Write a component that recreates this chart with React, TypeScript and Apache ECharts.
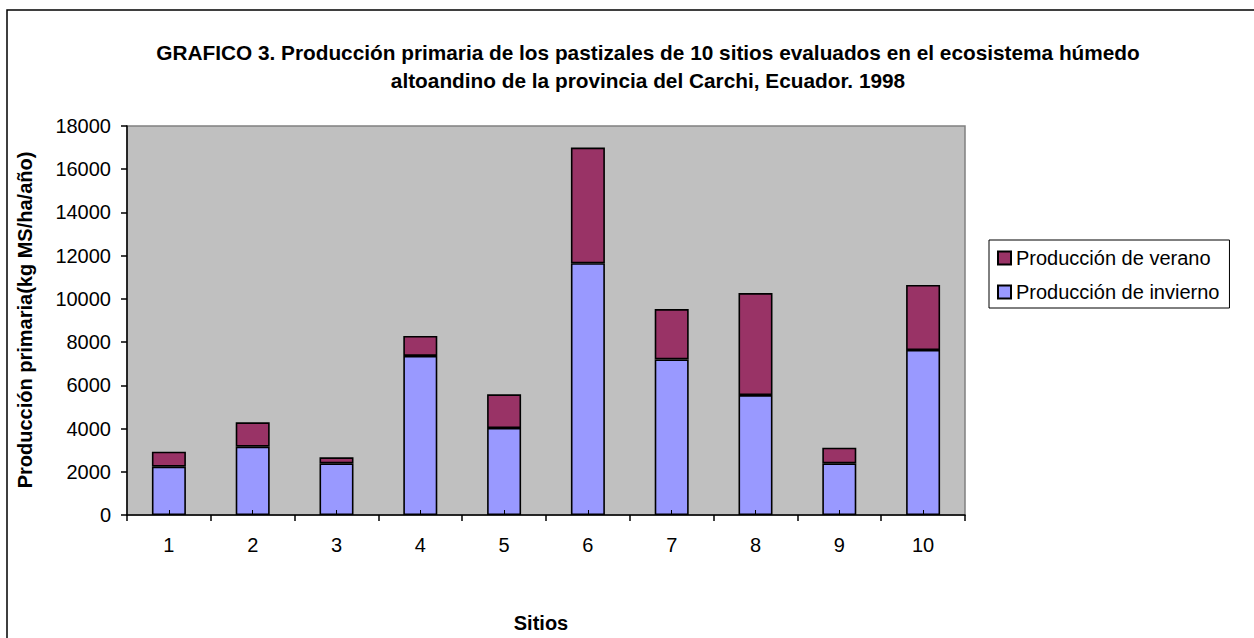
import React, { useEffect, useRef } from "react";
import * as echarts from "echarts";

const sitios = ["1", "2", "3", "4", "5", "6", "7", "8", "9", "10"];
const invierno = [2235, 3160, 2390, 7360, 4025, 11650, 7200, 5550, 2390, 7635];
const verano = [695, 1130, 280, 925, 1560, 5350, 2330, 4720, 725, 3010];
const yMin = 0;
const yMax = 18000;
const yStep = 2000;
const titleText =
  "GRAFICO 3. Producción primaria de los pastizales de 10 sitios evaluados en el ecosistema húmedo\naltoandino de la provincia del Carchi, Ecuador. 1998";
const yName = "Producción primaria(kg MS/ha/año)";
const xName = "Sitios";
const nameVerano = "Producción de verano";
const nameInvierno = "Producción de invierno";

const FONT = "'Liberation Sans', Arial, sans-serif";

export default function App() {
  const ref = useRef<HTMLDivElement>(null);
  useEffect(() => {
    if (!ref.current) return;
    const chart = echarts.init(ref.current, null, { renderer: "svg" });
    const barBorder = { borderColor: "#000", borderWidth: 1.6 };
    chart.setOption({
      animation: false,
      backgroundColor: "#fff",
      textStyle: { fontFamily: FONT },
      graphic: [
        {
          type: "rect",
          shape: { x: 7, y: 10, width: 1300, height: 700 },
          style: { fill: "none", stroke: "#000", lineWidth: 1.5 },
          z: 0,
        },
        {
          type: "text",
          x: 648,
          y: 66,
          style: {
            text: titleText,
            align: "center",
            verticalAlign: "middle",
            font: "bold 20.8px " + FONT,
            lineHeight: 28,
            fill: "#000",
          },
        },
        {
          type: "text",
          x: 25,
          y: 320,
          rotation: Math.PI / 2,
          style: {
            text: yName,
            align: "center",
            verticalAlign: "middle",
            font: "bold 20px " + FONT,
            fill: "#000",
          },
        },
        {
          type: "text",
          x: 541,
          y: 623,
          style: {
            text: xName,
            align: "center",
            verticalAlign: "middle",
            font: "bold 20px " + FONT,
            fill: "#000",
          },
        },
      ],
      legend: {
        orient: "vertical",
        left: 989,
        top: 240,
        padding: [8, 10, 6, 8],
        borderColor: "#000",
        borderWidth: 1,
        itemWidth: 13,
        itemHeight: 13,
        itemGap: 14,
        icon: "rect",
        data: [nameVerano, nameInvierno],
        textStyle: { fontSize: 20, color: "#000", fontFamily: FONT },
        itemStyle: { borderColor: "#000", borderWidth: 2 },
      },
      grid: {
        left: 127,
        right: 289,
        top: 126,
        bottom: 123,
        show: true,
        backgroundColor: "#C0C0C0",
        borderColor: "#808080",
        borderWidth: 1.5,
      },
      xAxis: [
        {
          type: "category",
          data: sitios,
          axisLine: { lineStyle: { color: "#000", width: 1.5 } },
          axisTick: { show: true, length: 6, lineStyle: { color: "#000", width: 1.5 } },
          axisLabel: { fontSize: 20, color: "#000", margin: 20, fontFamily: FONT },
          splitLine: { show: false },
        },
        {
          type: "category",
          data: sitios,
          position: "bottom",
          z: 10,
          axisLine: { show: false },
          axisTick: {
            show: true,
            inside: true,
            alignWithLabel: true,
            length: 5,
            lineStyle: { color: "#000", width: 1 },
          },
          axisLabel: { show: false },
          splitLine: { show: false },
        },
      ],
      yAxis: {
        type: "value",
        min: yMin,
        max: yMax,
        interval: yStep,
        axisLine: { show: true, lineStyle: { color: "#000", width: 1.5 } },
        axisTick: { show: true, length: 6, lineStyle: { color: "#000", width: 1.5 } },
        axisLabel: {
          fontSize: 20,
          color: "#000",
          margin: 16,
          fontFamily: FONT,
          formatter: (v: number) => String(v),
        },
        splitLine: { show: false },
      },
      series: [
        {
          name: nameInvierno,
          type: "bar",
          stack: "total",
          data: invierno,
          barWidth: 34,
          itemStyle: { color: "#9999FF", ...barBorder },
        },
        {
          name: nameVerano,
          type: "bar",
          stack: "total",
          data: verano,
          barWidth: 34,
          itemStyle: { color: "#993366", ...barBorder },
        },
      ],
    });
    return () => chart.dispose();
  }, []);
  return (
    <div
      ref={ref}
      style={{ position: "fixed", left: 0, top: 0, width: 1254, height: 638 }}
    />
  );
}
